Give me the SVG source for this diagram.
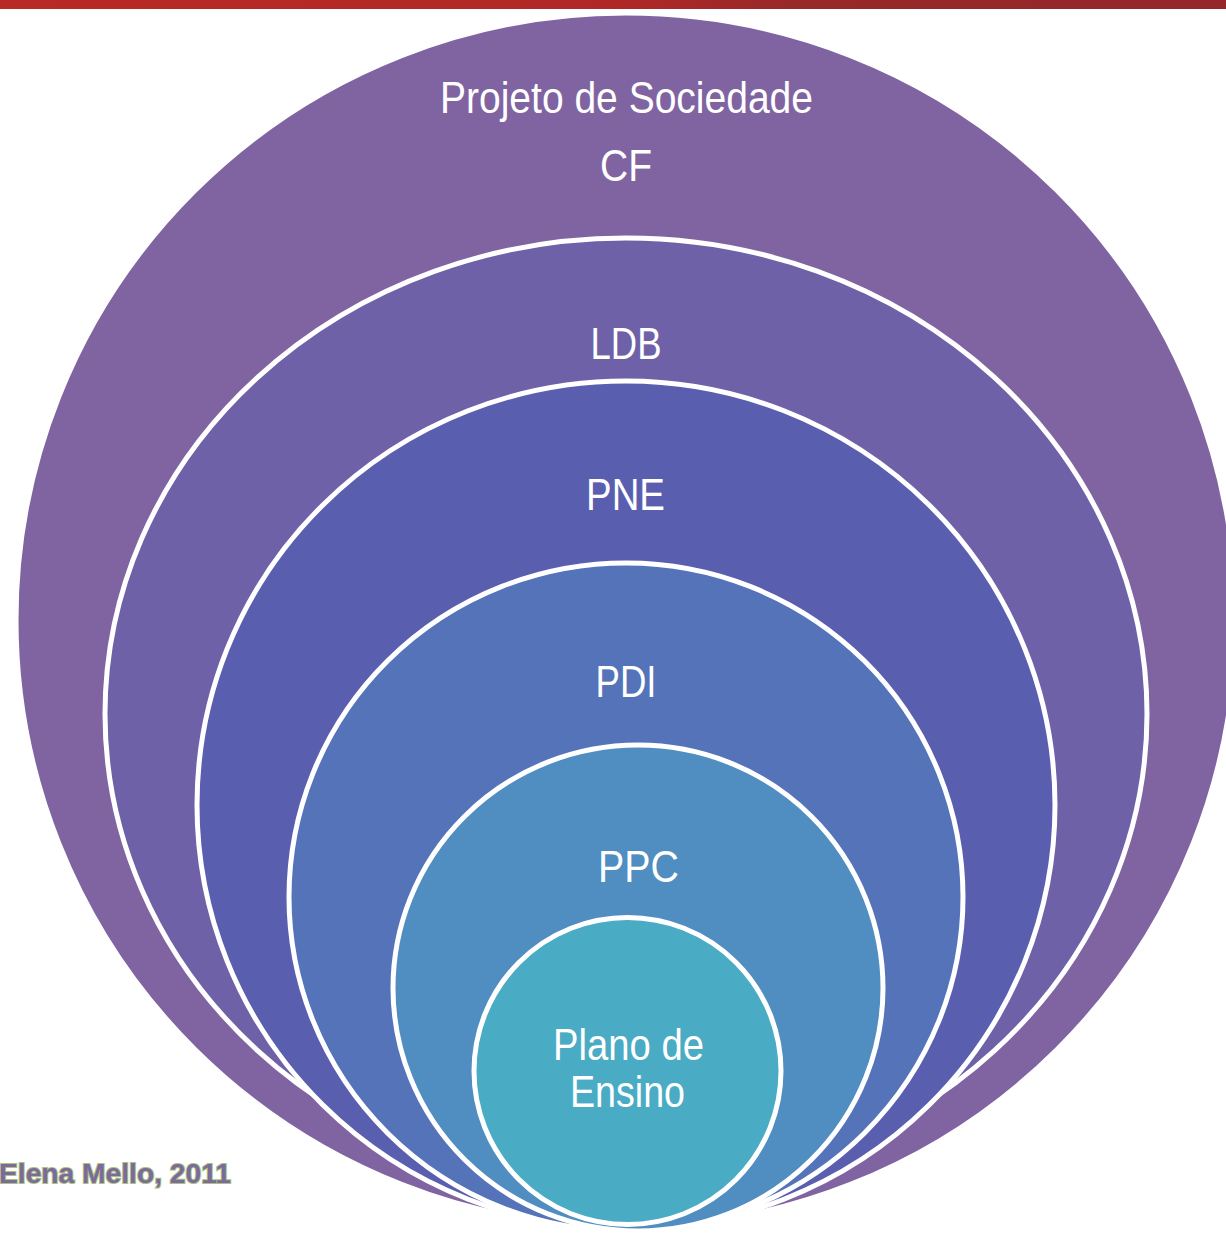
<svg xmlns="http://www.w3.org/2000/svg" width="1226" height="1235" viewBox="0 0 1226 1235">
  <defs>
    <linearGradient id="bar" x1="0" y1="0" x2="1" y2="0">
      <stop offset="0" stop-color="#b82a25"/>
      <stop offset="0.5" stop-color="#b02826"/>
      <stop offset="0.65" stop-color="#98282a"/>
      <stop offset="1" stop-color="#93272a"/>
    </linearGradient>
    <style>
      .ring { stroke: #ffffff; stroke-width: 5; }
      .lbl { font-family: "Liberation Sans", Arial, sans-serif; font-size: 45px; fill: #ffffff; text-anchor: middle; }
      .credit { font-family: "Liberation Sans", Arial, sans-serif; font-size: 28px; font-weight: bold; fill: #7b6a9b; stroke: #aac47e; stroke-width: 2; paint-order: stroke; }
    </style>
  </defs>
  <rect width="1226" height="1235" fill="#ffffff"/>
  <rect x="0" y="0" width="1226" height="9" fill="url(#bar)"/>

  <g id="node-projeto-cf">
    <ellipse class="ring" cx="626" cy="620" rx="610" ry="607" fill="#8064a2"/>
    <text class="lbl" x="626.5" y="113" textLength="373" lengthAdjust="spacingAndGlyphs">Projeto de Sociedade</text>
    <text class="lbl" x="626" y="181" textLength="52" lengthAdjust="spacingAndGlyphs">CF</text>
  </g>
  <g id="node-ldb">
    <ellipse class="ring" cx="626" cy="714" rx="521" ry="476" fill="#6e61a8"/>
    <text class="lbl" x="626" y="359" textLength="71" lengthAdjust="spacingAndGlyphs">LDB</text>
  </g>
  <g id="node-pne">
    <ellipse class="ring" cx="626" cy="805" rx="429" ry="424" fill="#5a5eaf"/>
    <text class="lbl" x="625.5" y="510" textLength="79" lengthAdjust="spacingAndGlyphs">PNE</text>
  </g>
  <g id="node-pdi">
    <ellipse class="ring" cx="626" cy="897" rx="337" ry="334" fill="#5473b9"/>
    <text class="lbl" x="626" y="697" textLength="61" lengthAdjust="spacingAndGlyphs">PDI</text>
  </g>
  <g id="node-ppc">
    <ellipse class="ring" cx="638" cy="988" rx="245" ry="243" fill="#508dc0"/>
    <text class="lbl" x="638.5" y="882" textLength="81" lengthAdjust="spacingAndGlyphs">PPC</text>
  </g>
  <g id="node-plano">
    <ellipse class="ring" cx="627.5" cy="1071" rx="153.5" ry="153.5" fill="#4aabc5"/>
    <text class="lbl" x="628.5" y="1060" textLength="151" lengthAdjust="spacingAndGlyphs">Plano de</text>
    <text class="lbl" x="627.5" y="1107" textLength="115" lengthAdjust="spacingAndGlyphs">Ensino</text>
  </g>
  <g id="connectors"/>

  <text class="credit" x="-1" y="1183" textLength="232" lengthAdjust="spacingAndGlyphs">Elena Mello, 2011</text>
</svg>
